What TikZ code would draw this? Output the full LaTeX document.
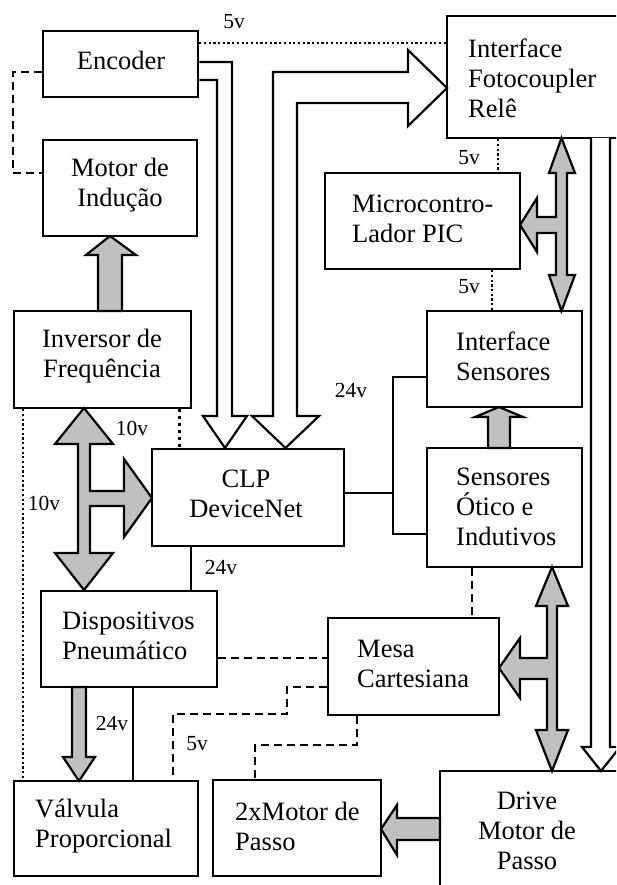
\documentclass[tikz,border=0pt]{standalone}
\usepackage{fontspec}
\setmainfont{Liberation Serif}
\usetikzlibrary{fit}
\definecolor{arrowgray}{RGB}{192,192,192}
\tikzset{
 box/.style={draw, line width=2.5pt, inner sep=0pt},
 txt/.style={inner sep=0pt, font=\fontsize{26.5}{30}\selectfont},
 lbl/.style={inner sep=0pt, font=\fontsize{21.5}{24}\selectfont},
 wire/.style={line width=2pt},
 dashline/.style={line width=2pt, dash pattern=on 8pt off 5pt},
 dotline/.style={line width=2.2pt, dash pattern=on 2.2pt off 2.5pt},
 bigdot/.style={line width=3pt, dash pattern=on 3pt off 4pt},
 grayarrow/.style={draw, line width=2.2pt, fill=arrowgray, line join=miter},
 hollow/.style={draw, line width=2.2pt, fill=white, line join=miter},
}
\begin{document}
\begin{tikzpicture}[x=1pt,y=-1pt]
\clip (0,0) rectangle (616,885);
\fill[white] (0,0) rectangle (616,885);
% boxes
\node[box, fit={(43,31)(198,97)}] (enc) {};
\node[box, fit={(43,140)(197,236)}] (mot) {};
\node[box, fit={(14,311)(191,408)}] (inv) {};
\node[box, fit={(152,449)(344,546)}] (clp) {};
\node[box, fit={(41,591)(217,687)}] (dis) {};
\node[box, fit={(14,781)(198,876)}] (val) {};
\node[box, fit={(213,780)(381,876)}] (mp) {};
\node[box, fit={(328,618)(499,715)}] (mesa) {};
\node[box, fit={(440,771)(640,910)}] (drv) {};
\node[box, fit={(447,16)(640,138)}] (ifc) {};
\node[box, fit={(325,173)(520,269)}] (mcu) {};
\node[box, fit={(427,311)(582,407)}] (ifs) {};
\node[box, fit={(427,448)(582,567)}] (sen) {};
% texts
\node[txt] (encT) at (121,60) {Encoder};
\node[txt, align=center] (motT) at (120,185) {Motor de\\Indução};
\node[txt, align=center] (invT) at (102,356) {Inversor de\\Frequência};
\node[txt, align=center] (clpT) at (246,494) {CLP\\DeviceNet};
\node[txt, align=left, anchor=west] (ifcT) at (468,78) {Interface\\Fotocoupler\\Relê};
\node[txt, align=left, anchor=west] (mcuT) at (352,219) {Microcontro-\\Lador PIC};
\node[txt, align=left, anchor=west] (ifsT) at (456,356) {Interface\\Sensores};
\node[txt, align=left, anchor=west] (senT) at (456,507) {Sensores\\Ótico e\\Indutivos};
\node[txt, align=left, anchor=west] (disT) at (62,636) {Dispositivos\\Pneumático};
\node[txt, align=left, anchor=west] (mesaT) at (357,664) {Mesa\\Cartesiana};
\node[txt, align=left, anchor=west] (valT) at (35,826) {Válvula\\Proporcional};
\node[txt, align=left, anchor=west] (mpT) at (235,826) {2xMotor de\\Passo};
\node[txt, align=center] (drvT) at (527,831) {Drive\\Motor de\\Passo};
% labels
\node[lbl] (l1) at (234,22) {5v};
\node[lbl] (l2) at (469,158) {5v};
\node[lbl] (l3) at (469,287) {5v};
\node[lbl] (l4) at (132,428) {10v};
\node[lbl] (l5) at (44,503) {10v};
\node[lbl] (l6) at (221,567) {24v};
\node[lbl] (l7) at (351,390) {24v};
\node[lbl] (l8) at (112,723) {24v};
\node[lbl] (l9) at (197,744) {5v};
% dashed / dotted / solid connectors
\draw[dashline] (enc.west |- 0,72) -- (13,72) -- (13,173) -- (mot.west |- 0,173);
\draw[dotline] (enc.east |- 0,43) -- (ifc.west |- 0,43);
\draw[dotline] (ifc.south -| 498,0) -- (mcu.north -| 498,0);
\draw[dotline] (mcu.south -| 492,0) -- (ifs.north -| 492,0);
\draw[bigdot] (inv.south -| 179,0) -- (clp.north -| 179,0);
\draw[dotline] (inv.south -| 23,0) -- (val.north -| 23,0);
\draw[wire] (clp.south -| 191,0) -- (dis.north -| 191,0);
\draw[wire] (clp.east |- 0,493) -- (393,493);
\draw[wire] (ifs.west |- 0,377) -- (393,377) -- (393,534) -- (sen.west |- 0,534);
\draw[wire] (dis.south -| 133,0) -- (val.north -| 133,0);
\draw[dashline] (sen.south -| 472,0) -- (mesa.north -| 472,0);
\draw[dashline] (dis.east |- 0,658) -- (mesa.west |- 0,658);
\draw[dashline] (mesa.west |- 0,687) -- (287,687) -- (287,714) -- (173,714) -- (val.north -| 173,0);
\draw[dashline] (mesa.south -| 357,0) -- (357,745) -- (255,745) -- (mp.north -| 255,0);
% hollow arrows
\draw[hollow] (enc.east |- 0,62) -- (232,62) -- (232,416) -- (247,416) -- (225,448) -- (203,416) -- (217,416) -- (217,80) -- (enc.east |- 0,80);
\draw[hollow] (285.5,448) -- (319,416) -- (297,416) -- (297,103) -- (408,103) -- (408,126) -- (447,88) -- (408,50) -- (408,72) -- (273,72) -- (273,416) -- (252,416) -- cycle;
\draw[hollow] (591,138) -- (591,747) -- (582,747) -- (601,771) -- (620,747) -- (610,747) -- (610,138);
% gray arrows
\draw[grayarrow] (98,311) -- (98,255) -- (86,255) -- (110,236) -- (136,255) -- (122,255) -- (122,311) -- cycle;
\draw[grayarrow] (84,408) -- (113,444) -- (90,444) -- (90,491) -- (124,491) -- (124,459) -- (152,498) -- (124,537) -- (124,506) -- (90,506) -- (90,553) -- (113,553) -- (84,590) -- (55,553) -- (78,553) -- (78,444) -- (55,444) -- cycle;
\draw[grayarrow] (72,687) -- (72,757) -- (63,757) -- (79,781) -- (95,757) -- (86,757) -- (86,687) -- cycle;
\draw[grayarrow] (561.5,138) -- (575,173) -- (567,173) -- (567,275) -- (575,275) -- (561.5,311) -- (549,275) -- (556,275) -- (556,233) -- (537,233) -- (537,252) -- (520,225) -- (537,198) -- (537,217) -- (556,217) -- (556,173) -- (549,173) -- cycle;
\draw[grayarrow] (488,448) -- (488,417) -- (475,417) -- (499,407) -- (523,417) -- (510,417) -- (510,448) -- cycle;
\draw[grayarrow] (552,567) -- (568,606) -- (557,606) -- (557,730) -- (568,730) -- (552,771) -- (536,730) -- (547,730) -- (547,679) -- (520,679) -- (520,698) -- (499,668) -- (520,638) -- (520,658) -- (547,658) -- (547,606) -- (536,606) -- cycle;
\draw[grayarrow] (440,818) -- (397,818) -- (397,805) -- (381,829) -- (397,855) -- (397,840) -- (440,840) -- cycle;
\end{tikzpicture}
\end{document}
